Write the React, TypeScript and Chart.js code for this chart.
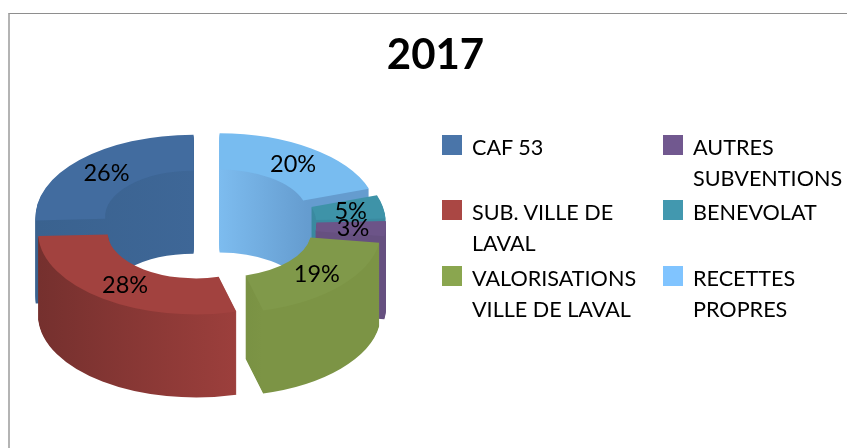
import React, { useEffect, useRef } from "react";
import { Chart, registerables } from "chart.js";

Chart.register(...registerables);

const title = "2017";
const categories = ["CAF 53", "SUB. VILLE DE LAVAL", "VALORISATIONS VILLE DE LAVAL", "AUTRES SUBVENTIONS", "BENEVOLAT", "RECETTES PROPRES"];
const legendLines = [["CAF 53"], ["SUB. VILLE DE", "LAVAL"], ["VALORISATIONS", "VILLE DE LAVAL"], ["AUTRES", "SUBVENTIONS"], ["BENEVOLAT"], ["RECETTES", "PROPRES"]];
const values = [25.7, 28.4, 18.6, 3.0, 4.6, 19.7];
const legendColors = ["#4a75a9", "#aa4744", "#8aa64f", "#71588f", "#4298af", "#80c4ff"];
const topColors = ["#426c9f", "#a2423f", "#80994a", "#6c5488", "#3e93a8", "#78bcf0"];
const wallDark = ["#3a628f", "#75302e", "#5f7a36", "#5a4673", "#337a8c", "#7dbcef"];
const wallLight = ["#3f6899", "#9c3f3c", "#7c9445", "#665080", "#3a8aa0", "#659ccf"];

const CX = 208;
const CY = 224;
const RADIUS = 158;
const SQUASH = 0.52;
const DEPTH = 83;
const EXPLODE = 20;

const reversed = <T,>(a: T[]) => [...a].reverse();

const pseudo3d = {
  id: "pseudo3d",
  beforeDatasetsDraw(chart: any) {
    const { ctx } = chart;
    const arcs: any[] = chart.getDatasetMeta(0).data;
    const tops = reversed(topColors);
    const darks = reversed(wallDark);
    const lights = reversed(wallLight);
    const mid = (a: any) => (a.startAngle + a.endAngle) / 2;
    const order = arcs.map((_, i) => i).sort((p, q) => Math.sin(mid(arcs[p])) - Math.sin(mid(arcs[q])));

    for (const i of order) {
      const el = arcs[i];
      const m = mid(el);
      const ex = Math.cos(m) * EXPLODE;
      const ey = Math.sin(m) * EXPLODE * SQUASH;
      const backRight = Math.sin(m) < 0 && Math.cos(m) > 0;
      // Gradient coordinates live in the arc's own (untranslated) space.
      const left = backRight ? el.x : el.x - RADIUS;
      const right = backRight ? el.x + el.innerRadius : el.x + RADIUS * 0.25;
      const grad = ctx.createLinearGradient(left, 0, right, 0);
      grad.addColorStop(0, darks[i]);
      grad.addColorStop(1, lights[i]);
      const place = (dy: number) => {
        ctx.save();
        ctx.translate(CX + ex - el.x, CY + ey + dy);
        ctx.scale(1, SQUASH);
        ctx.translate(0, -el.y);
      };
      const wall = Object.create(el);
      wall.options = { ...el.options, backgroundColor: grad, borderWidth: 0 };
      for (let d = DEPTH; d >= 1; d--) {
        place(d);
        wall.draw(ctx);
        ctx.restore();
      }
      const top = Object.create(el);
      top.options = { ...el.options, backgroundColor: tops[i], borderWidth: 0 };
      place(0);
      top.draw(ctx);
      ctx.restore();
    }

    ctx.save();
    ctx.font = "23.5px Lato";
    ctx.fillStyle = "#000";
    ctx.textAlign = "center";
    ctx.textBaseline = "middle";
    const vals: number[] = chart.data.datasets[0].data;
    arcs.forEach((el, i) => {
      const m = mid(el);
      const r = (el.innerRadius + el.outerRadius) / 2 + EXPLODE;
      ctx.fillText(`${Math.round(vals[i])}%`, CX + 2 + Math.cos(m) * r, CY + 1 + Math.sin(m) * r * SQUASH);
    });
    ctx.restore();
    return false;
  },
};

const swatchX = [442, 442, 442, 663, 663, 663];
const swatchY = [135, 200, 266, 135, 200, 266];

export default function App() {
  const ref = useRef<HTMLCanvasElement>(null);
  useEffect(() => {
    const chart = new Chart(ref.current!, {
      type: "doughnut",
      data: {
        labels: reversed(categories),
        datasets: [{ data: reversed(values), backgroundColor: reversed(topColors), borderWidth: 0, radius: RADIUS }],
      } as any,
      options: {
        responsive: false,
        animation: false,
        cutout: "56%",
        layout: { padding: { left: 24 } },
        plugins: {
          legend: { display: false },
          tooltip: { enabled: false },
          title: {
            display: true,
            text: title,
            color: "#000",
            font: { family: "Lato", size: 42, weight: "bold" },
            padding: { top: 30, bottom: 0 },
          },
        },
      } as any,
      plugins: [pseudo3d],
    });
    return () => chart.destroy();
  }, []);

  return (
    <div style={{ position: "fixed", left: 0, top: 0, width: 847, height: 448, overflow: "hidden", background: "#fff" }}>
      <div style={{ position: "absolute", left: 8, top: 13, width: 860, height: 460, borderLeft: "2px solid #b4b4b4", borderTop: "1px solid #8e8e8e" }} />
      <canvas ref={ref} width={847} height={448} style={{ position: "absolute", left: 0, top: 0, display: "block" }} />
      {categories.map((c, i) => (
        <React.Fragment key={c}>
          <div style={{ position: "absolute", left: swatchX[i], top: swatchY[i], width: 20, height: 20, background: legendColors[i] }} />
          <div
            style={{
              position: "absolute",
              left: swatchX[i] + 30,
              top: swatchY[i] - 3,
              font: "21.6px/30.5px Lato",
              color: "#000",
              whiteSpace: "nowrap",
            }}
          >
            {legendLines[i].map((l) => (
              <div key={l}>{l}</div>
            ))}
          </div>
        </React.Fragment>
      ))}
    </div>
  );
}
